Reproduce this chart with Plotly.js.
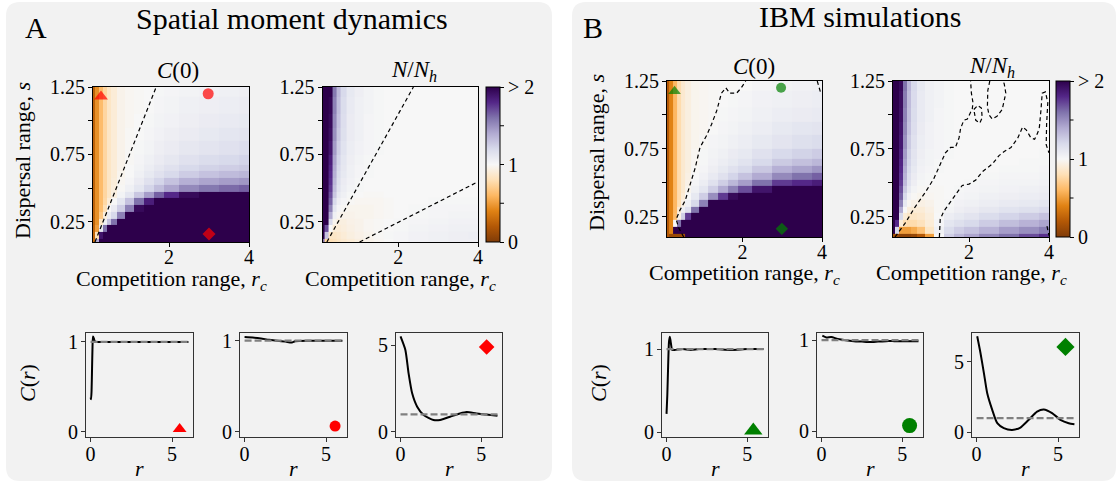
<!DOCTYPE html>
<html><head><meta charset="utf-8">
<script src="https://cdn.plot.ly/plotly-3.0.1.min.js"></script>
<style>html,body{margin:0;padding:0;background:#fff}#chart{width:1117px;height:482px}</style>
</head><body><div id="chart"></div>
<script>
const W = 1117, H = 482;
const FONT = "Liberation Serif";

// ---------- data ----------
const rcGrid = [0.1,0.2,0.3,0.4,0.5,0.6,0.8,1.0,1.25,1.5,1.75,2.0,2.5,3.0,3.5,4.0];
const sGrid  = [0.1,0.15,0.2,0.25,0.3,0.35,0.4,0.45,0.5,0.55,0.6,0.65,0.7,0.8,0.9,1.0,1.1,1.25];

// Spatial moment dynamics, C(0)
const smdC0 = [
 [0.3,1.4,2,2,2,2,2,2,2,2,2,2,2,2,2,2],
 [0.27,0.8,1.9,2,2,2,2,2,2,2,2,2,2,2,2,2],
 [0.26,0.5,1.1,1.6,2,2,2,2,2,2,2,2,2,2,2,2],
 [0.25,0.45,0.85,1.05,1.3,1.6,2,2,2,2,2,2,2,2,2,2],
 [0.25,0.45,0.68,0.92,1.08,1.2,1.55,2,2,2,2,2,2,2,2,2],
 [0.25,0.45,0.63,0.8,1.0,1.08,1.25,1.55,1.95,2,2,2,2,2,2,2],
 [0.25,0.45,0.62,0.76,0.9,1.0,1.12,1.3,1.6,1.85,2,2,2,2,2,2],
 [0.25,0.45,0.62,0.75,0.85,0.93,1.03,1.12,1.28,1.45,1.65,1.8,1.95,2,2,2],
 [0.25,0.45,0.62,0.75,0.85,0.92,0.99,1.05,1.12,1.22,1.32,1.42,1.52,1.58,1.62,1.65],
 [0.25,0.45,0.62,0.75,0.85,0.91,0.98,1.02,1.08,1.15,1.22,1.3,1.38,1.42,1.45,1.47],
 [0.25,0.45,0.62,0.75,0.85,0.9,0.97,1.0,1.05,1.1,1.15,1.2,1.26,1.3,1.33,1.35],
 [0.25,0.45,0.62,0.75,0.85,0.9,0.96,1.0,1.03,1.07,1.11,1.15,1.2,1.23,1.25,1.27],
 [0.25,0.45,0.62,0.75,0.85,0.9,0.96,0.99,1.02,1.05,1.08,1.11,1.15,1.18,1.2,1.22],
 [0.25,0.45,0.62,0.75,0.85,0.9,0.96,0.99,1.01,1.03,1.06,1.08,1.11,1.13,1.15,1.17],
 [0.25,0.45,0.62,0.75,0.85,0.9,0.96,0.99,1.0,1.02,1.04,1.06,1.08,1.1,1.12,1.13],
 [0.25,0.45,0.62,0.75,0.85,0.9,0.96,0.98,1.0,1.01,1.03,1.04,1.06,1.08,1.09,1.1],
 [0.25,0.45,0.62,0.75,0.85,0.9,0.96,0.98,0.99,1.0,1.02,1.03,1.05,1.06,1.07,1.08],
 [0.25,0.45,0.62,0.75,0.85,0.9,0.96,0.98,0.99,1.0,1.01,1.02,1.03,1.04,1.05,1.06]
];
// Spatial moment dynamics, N/N_h
const smdN = [
 [1.6,0.75,0.8,0.82,0.85,0.88,0.9,0.93,0.96,0.98,1.0,1.02,1.04,1.05,1.06,1.06],
 [2,1.3,0.85,0.85,0.87,0.9,0.93,0.95,0.97,0.99,1.01,1.02,1.04,1.05,1.06,1.07],
 [2,1.7,1.0,0.9,0.9,0.92,0.94,0.96,0.98,0.99,1.0,1.01,1.03,1.04,1.05,1.05],
 [2,2,1.2,0.97,0.93,0.93,0.95,0.96,0.98,0.99,1.0,1.01,1.02,1.03,1.04,1.04],
 [2,2,1.4,1.05,0.98,0.96,0.96,0.97,0.97,0.98,0.99,1.0,1.01,1.02,1.03,1.03],
 [2,2,1.55,1.12,1.02,0.99,0.97,0.97,0.97,0.98,0.99,1.0,1.01,1.02,1.02,1.02],
 [2,2,1.65,1.2,1.06,1.02,0.99,0.98,0.98,0.98,0.99,1.0,1.0,1.01,1.01,1.01],
 [2,2,1.7,1.28,1.1,1.05,1.01,1.0,0.99,0.99,1.0,1.0,1.0,1.0,1.0,1.0],
 [2,2,1.75,1.32,1.14,1.07,1.03,1.01,1.0,1.0,1.0,1.0,1.0,1.0,1.0,1.0],
 [2,2,1.78,1.35,1.16,1.08,1.04,1.01,1.0,1.0,1.0,1.0,1.0,1.0,1.0,1.0],
 [2,2,1.8,1.38,1.18,1.1,1.05,1.02,1.01,1.0,1.0,1.0,1.0,1.0,1.0,1.0],
 [2,2,1.82,1.4,1.2,1.11,1.05,1.02,1.01,1.0,1.0,1.0,1.0,1.0,1.0,1.0],
 [2,2,1.85,1.42,1.22,1.12,1.06,1.03,1.01,1.0,1.0,1.0,1.0,1.0,1.0,1.0],
 [2,2,1.9,1.46,1.25,1.14,1.07,1.04,1.02,1.01,1.0,1.0,1.0,1.0,1.0,1.0],
 [2,2,1.93,1.5,1.28,1.16,1.08,1.05,1.02,1.01,1.0,1.0,1.0,1.0,1.0,1.0],
 [2,2,1.95,1.52,1.3,1.17,1.08,1.05,1.02,1.01,1.0,1.0,1.0,1.0,1.0,1.0],
 [2,2,1.97,1.55,1.32,1.18,1.09,1.05,1.03,1.01,1.0,1.0,1.0,1.0,1.0,1.0],
 [2,2,2,1.58,1.34,1.2,1.1,1.06,1.03,1.01,1.0,1.0,1.0,1.0,1.0,1.0]
];
// IBM simulations, C(0)
const ibmC0 = [
 [0.2,0.1,0.1,0.1,0.12,2,2,2,2,2,2,2,2,2,2,2],
 [0.2,0.4,2,2,2,2,2,2,2,2,2,2,2,2,2,2],
 [0.2,0.4,1.0,1.6,2,2,2,2,2,2,2,2,2,2,2,2],
 [0.2,0.4,0.62,0.95,1.25,1.75,2,2,2,2,2,2,2,2,2,2],
 [0.2,0.4,0.6,0.9,1.05,1.15,1.6,2,2,2,2,2,2,2,2,2],
 [0.2,0.4,0.6,0.8,0.95,1.05,1.2,1.55,2,2,2,2,2,2,2,2],
 [0.2,0.4,0.6,0.78,0.9,1.0,1.1,1.25,1.5,1.75,1.95,2,2,2,2,2],
 [0.2,0.4,0.6,0.78,0.88,0.97,1.05,1.12,1.25,1.4,1.55,1.7,1.9,2,2,2],
 [0.2,0.4,0.6,0.78,0.88,0.95,1.02,1.07,1.15,1.25,1.35,1.45,1.6,1.75,1.8,1.85],
 [0.2,0.4,0.6,0.78,0.88,0.94,1.0,1.04,1.09,1.15,1.22,1.3,1.4,1.52,1.6,1.65],
 [0.2,0.4,0.6,0.78,0.88,0.93,0.99,1.02,1.06,1.1,1.15,1.2,1.28,1.38,1.43,1.48],
 [0.2,0.4,0.6,0.78,0.88,0.93,0.98,1.01,1.04,1.07,1.1,1.14,1.2,1.27,1.31,1.35],
 [0.2,0.4,0.6,0.78,0.88,0.93,0.98,1.01,1.03,1.05,1.08,1.1,1.15,1.2,1.23,1.26],
 [0.2,0.4,0.6,0.78,0.88,0.93,0.97,0.99,1.02,1.03,1.05,1.07,1.1,1.13,1.16,1.18],
 [0.2,0.4,0.6,0.78,0.88,0.93,0.97,0.98,1.0,1.02,1.03,1.05,1.07,1.1,1.12,1.13],
 [0.2,0.4,0.6,0.78,0.88,0.93,0.97,0.98,0.99,1.01,1.02,1.03,1.05,1.07,1.08,1.09],
 [0.2,0.4,0.6,0.78,0.88,0.93,0.97,0.98,0.99,1.0,1.01,1.02,1.04,1.05,1.06,1.07],
 [0.2,0.4,0.6,0.78,0.88,0.93,0.97,0.98,0.99,0.99,0.99,1.0,1.02,1.03,1.04,1.05]
];
// IBM simulations, N/N_h
const ibmN = [
 [0.15,0.1,0.05,0.05,0.05,0.08,0.2,0.5,1.0,1.25,1.35,1.42,1.52,1.6,1.7,1.78],
 [2,1.2,0.5,0.5,0.5,0.55,0.65,0.85,1.05,1.18,1.25,1.3,1.37,1.45,1.5,1.56],
 [2,1.8,0.9,0.8,0.78,0.78,0.82,0.9,1.02,1.12,1.16,1.2,1.26,1.32,1.37,1.42],
 [2,2,1.2,0.9,0.85,0.85,0.87,0.92,1.0,1.07,1.1,1.13,1.18,1.22,1.26,1.3],
 [2,2,1.4,1.0,0.92,0.9,0.9,0.94,0.99,1.03,1.06,1.08,1.11,1.14,1.16,1.19],
 [2,2,1.55,1.1,0.98,0.95,0.94,0.96,0.99,1.01,1.04,1.05,1.07,1.09,1.1,1.12],
 [2,2,1.65,1.2,1.04,0.99,0.97,0.98,0.99,1.0,1.02,1.03,1.05,1.06,1.07,1.08],
 [2,2,1.7,1.27,1.1,1.03,0.99,0.99,0.99,1.0,1.01,1.02,1.03,1.04,1.05,1.06],
 [2,2,1.75,1.33,1.14,1.06,1.01,1.0,1.0,1.0,1.0,1.01,1.02,1.03,1.03,1.04],
 [2,2,1.78,1.37,1.17,1.08,1.03,1.01,1.0,1.0,1.0,1.0,1.01,1.02,1.02,1.03],
 [2,2,1.8,1.4,1.2,1.1,1.04,1.02,1.01,1.0,1.0,1.0,1.0,1.01,1.01,1.02],
 [2,2,1.82,1.43,1.22,1.12,1.05,1.03,1.01,1.0,1.0,1.0,1.0,1.0,1.01,1.01],
 [2,2,1.85,1.46,1.24,1.13,1.06,1.03,1.02,1.01,1.0,1.0,1.0,1.0,1.0,1.01],
 [2,2,1.88,1.5,1.27,1.15,1.07,1.04,1.02,1.01,1.0,1.0,1.0,1.0,1.0,1.0],
 [2,2,1.9,1.53,1.3,1.17,1.08,1.04,1.02,1.01,1.0,1.0,1.0,1.0,1.0,1.0],
 [2,2,1.92,1.55,1.32,1.18,1.09,1.05,1.02,1.01,1.0,1.0,1.0,1.0,1.0,1.0],
 [2,2,1.93,1.57,1.33,1.19,1.09,1.05,1.03,1.01,1.0,1.0,1.0,1.0,1.0,1.0],
 [2,2,1.95,1.6,1.35,1.2,1.1,1.05,1.03,1.01,1.0,1.0,1.0,1.0,1.0,1.0]
];

// dashed boundaries (SMD: straight lines; IBM: traced C=1 contours)
const smdC0LineRc = [0.15, 1.68], smdC0LineS = [0.1, 1.25];
const smdNLine1Rc = [0.21, 2.38], smdNLine1S = [0.1, 1.25];
const smdNLine2Rc = [1.03, 4.0],  smdNLine2S = [0.1, 0.547];
const ibmC0ContRc = [0.52,0.45,0.39,0.33,0.43,0.56,0.68,0.81,0.93,1.1,1.22,1.35,1.47,1.58,1.68,1.85,1.97,2.08,null,3.88,3.97];
const ibmC0ContS  = [0.1,0.14,0.17,0.23,0.3,0.37,0.49,0.61,0.76,0.85,0.93,1.03,1.16,1.2,1.16,1.16,1.2,1.25,null,1.25,1.16];
const ibmNCont1Rc = [0.15,0.4,0.65,0.91,1.12,1.28,1.41,1.54,1.66,1.75,1.79,1.87,1.96,2.04,2.08,2.1,2.06,2.04];
const ibmNCont1S  = [0.1,0.2,0.32,0.43,0.53,0.63,0.72,0.76,0.76,0.83,0.9,0.96,0.97,1.02,1.04,1.09,1.16,1.25];
const ibmNLoop1Rc = [2.12,2.22,2.31,2.33,2.27,2.17,2.12];
const ibmNLoop1S  = [1.04,1.07,1.05,0.98,0.94,0.96,1.04];
const ibmNLoop2Rc = [2.52,2.47,2.46,2.5,2.58,2.7,2.83,2.92,2.88,2.85];
const ibmNLoop2S  = [1.25,1.18,1.06,1.0,0.97,0.99,1.04,1.16,1.23,1.25];
const ibmNCont2Rc = [1.26,1.28,1.37,1.54,1.7,1.83,2.0,2.17,2.33,2.46,2.59,2.75,2.88,3.05,3.22,3.34,3.43,3.55,3.64,3.72,3.76,3.8,3.83,3.91,3.97,3.94,3.93,4.0,null,3.95,4.0];
const ibmNCont2S  = [0.1,0.23,0.29,0.36,0.42,0.48,0.49,0.52,0.58,0.61,0.64,0.7,0.73,0.76,0.83,0.91,0.89,0.83,0.82,0.87,0.91,1.04,1.16,1.17,1.09,0.93,0.78,0.72,null,0.18,0.11];

// marker positions (rc, s)
const markRc = [0.3, 2.98, 3.0];
const markS  = [1.18, 1.2, 0.16];
const markRcB = [0.29, 2.97, 2.99];
const markSB  = [1.175, 1.2, 0.16];

// pair correlation functions C(r)
const smdTriR  = [0,0.03,0.06,0.09,0.12,0.15,0.2,0.25,0.35,0.5,1,2,3,4,5,6];
const smdTriC  = [0.38,0.36,0.45,0.7,0.95,1.06,1.04,1.01,1.0,1.0,1.0,1.0,1.0,1.0,1.0,1.0];
const smdCircR = [0,0.5,1,1.5,2,2.5,2.9,3.1,4,5,6];
const smdCircC = [1.04,1.035,1.025,1.01,1.0,0.99,0.98,0.995,1.0,1.0,1.0];
const smdDiaR  = [0,0.3,0.5,0.72,1.03,1.43,2.04,2.45,3.07,3.68,4.1,4.7,5.3,6.0];
const smdDiaC  = [5.5,4.72,3.37,2.22,1.45,0.97,0.68,0.68,0.87,1.06,1.14,1.06,1.0,0.93];
const ibmTriR  = [0,0.05,0.1,0.15,0.2,0.25,0.3,0.35,0.5,1,1.5,2,3,4,5,6];
const ibmTriC  = [0.22,0.45,0.8,1.08,1.15,1.1,1.03,0.99,0.99,1.0,0.99,1.0,1.0,0.99,1.0,1.0];
const ibmCircR = [0.05,0.3,0.6,1,1.5,2,2.5,3,3.5,4,4.5,5,5.5,6];
const ibmCircC = [1.05,1.03,1.035,1.015,1.0,0.99,0.985,0.98,0.985,0.99,0.99,0.99,0.99,0.99];
const ibmDiaR  = [0.04,0.24,0.45,0.65,0.96,1.27,1.67,2.18,2.69,3.2,3.71,4.12,4.63,5.14,5.65,6.0];
const ibmDiaC  = [6.83,5.64,4.21,2.79,1.59,0.64,0.29,0.16,0.33,0.88,1.47,1.62,1.36,0.88,0.64,0.57];
const mfR = [0, 6], mfC = [1, 1];
// marker positions inside C(r) panels (r, C)
const smdSymR = [5.46, 5.55, 5.33], smdSymC = [0.03, 0.06, 4.89];
const ibmSymR = [5.37, 5.45, 5.45], ibmSymC = [0.02, 0.06, 6.07];

// ---------- helpers ----------
const px = v => v / W, py = v => 1 - v / H;
const dx = (a, b) => [px(a), px(b)];
const dy = (top, bot) => [py(bot), py(top)];
const PuOr = [[0,'#7f3b08'],[0.1,'#b35806'],[0.2,'#e08214'],[0.3,'#fdb863'],[0.4,'#fee0b6'],
  [0.5,'#f7f7f7'],[0.6,'#d8daeb'],[0.7,'#b2abd2'],[0.8,'#8073ac'],[0.9,'#542788'],[1,'#2d004b']];
const tf = {family: FONT, size: 20, color: 'black'};

function rr(x0, y0, x1, y1, r) {
  const P = (x, y) => px(x).toFixed(5) + ',' + py(y).toFixed(5);
  return 'M' + P(x0 + r, y0) + ' L' + P(x1 - r, y0) + ' Q' + P(x1, y0) + ' ' + P(x1, y0 + r) +
    ' L' + P(x1, y1 - r) + ' Q' + P(x1, y1) + ' ' + P(x1 - r, y1) +
    ' L' + P(x0 + r, y1) + ' Q' + P(x0, y1) + ' ' + P(x0, y1 - r) +
    ' L' + P(x0, y0 + r) + ' Q' + P(x0, y0) + ' ' + P(x0 + r, y0) + ' Z';
}
function seg(x0, y0, x1, y1, color) {
  return {type: 'line', xref: 'paper', yref: 'paper', x0: px(x0), y0: py(y0), x1: px(x1), y1: py(y1),
    line: {color: color, width: 1}};
}

function cbar(xpx, ytop, len) {
  return {thickness: 14, thicknessmode: 'pixels', len: len, lenmode: 'pixels',
    x: px(xpx), xanchor: 'left', y: py(ytop), yanchor: 'top', xpad: 0, ypad: 0,
    outlinewidth: 1, outlinecolor: 'black', tickvals: [0, 1, 2],
    ticktext: ['0', '1', '> 2'], ticks: 'outside', ticklen: 4, tickwidth: 1,
    tickcolor: 'black', tickfont: tf};
}
function hm(z, xa, ya, showscale, cb) {
  const t = {type: 'heatmap', x: rcGrid, y: sGrid, z: z, xaxis: xa, yaxis: ya,
    colorscale: PuOr, zmin: 0, zmax: 2, zsmooth: false, hoverinfo: 'skip', showscale: showscale};
  if (cb) t.colorbar = cb;
  return t;
}
function dline(x, y, xa, ya) {
  return {type: 'scatter', mode: 'lines', x: x, y: y, xaxis: xa, yaxis: ya, hoverinfo: 'skip',
    line: {color: 'black', width: 1.2, dash: '4px,3px'}, connectgaps: false, showlegend: false};
}
function marks(x, y, xa, ya, color, sizes) {
  return {type: 'scatter', mode: 'markers', x: x, y: y, xaxis: xa, yaxis: ya, hoverinfo: 'skip',
    marker: {symbol: ['triangle-up', 'circle', 'diamond'], size: sizes, color: color, line: {width: 0}},
    showlegend: false};
}
function one(x, y, xa, ya, color, sym, size) {
  return {type: 'scatter', mode: 'markers', x: [x], y: [y], xaxis: xa, yaxis: ya, hoverinfo: 'skip',
    marker: {symbol: sym, size: size, color: color, line: {width: 0}}, showlegend: false};
}
function curve(x, y, xa, ya) {
  return {type: 'scatter', mode: 'lines', x: x, y: y, xaxis: xa, yaxis: ya, hoverinfo: 'skip',
    line: {color: 'black', width: 2, shape: 'spline', smoothing: 0.6}, showlegend: false};
}
function mf(xa, ya) {
  return {type: 'scatter', mode: 'lines', x: mfR, y: mfC, xaxis: xa, yaxis: ya, hoverinfo: 'skip',
    line: {color: '#808080', width: 2.2, dash: '7px,3px'}, showlegend: false};
}

const RED = '#ff0000', GREEN = '#008000';
const data = [
  hm(smdC0, 'x', 'y', false),
  hm(smdN, 'x2', 'y2', true, cbar(486, 87, 155)),
  hm(ibmC0, 'x3', 'y3', false),
  hm(ibmN, 'x4', 'y4', true, cbar(1055.5, 81, 156)),
  dline(smdC0LineRc, smdC0LineS, 'x', 'y'),
  dline(smdNLine1Rc, smdNLine1S, 'x2', 'y2'),
  dline(smdNLine2Rc, smdNLine2S, 'x2', 'y2'),
  dline(ibmC0ContRc, ibmC0ContS, 'x3', 'y3'),
  dline(ibmNCont1Rc, ibmNCont1S, 'x4', 'y4'),
  dline(ibmNLoop1Rc, ibmNLoop1S, 'x4', 'y4'),
  dline(ibmNLoop2Rc, ibmNLoop2S, 'x4', 'y4'),
  dline(ibmNCont2Rc, ibmNCont2S, 'x4', 'y4'),
  marks(markRc, markS, 'x', 'y', RED, [12, 11, 10]),
  marks(markRcB, markSB, 'x3', 'y3', GREEN, [11, 10, 9.5]),
  curve(smdTriR, smdTriC, 'x5', 'y5'), mf('x5', 'y5'),
  curve(smdCircR, smdCircC, 'x6', 'y6'), mf('x6', 'y6'),
  curve(smdDiaR, smdDiaC, 'x7', 'y7'), mf('x7', 'y7'),
  curve(ibmTriR, ibmTriC, 'x8', 'y8'), mf('x8', 'y8'),
  curve(ibmCircR, ibmCircC, 'x9', 'y9'), mf('x9', 'y9'),
  curve(ibmDiaR, ibmDiaC, 'x10', 'y10'), mf('x10', 'y10'),
  one(smdSymR[0], smdSymC[0], 'x5', 'y5', RED, 'triangle-up', 12),
  one(smdSymR[1], smdSymC[1], 'x6', 'y6', RED, 'circle', 11),
  one(smdSymR[2], smdSymC[2], 'x7', 'y7', RED, 'diamond', 12),
  one(ibmSymR[0], ibmSymC[0], 'x8', 'y8', GREEN, 'triangle-up', 16),
  one(ibmSymR[1], ibmSymC[1], 'x9', 'y9', GREEN, 'circle', 15),
  one(ibmSymR[2], ibmSymC[2], 'x10', 'y10', GREEN, 'diamond', 14)
];

function hx(dom, anchor) {
  return {domain: dom, anchor: anchor, range: [0.1, 4], tickvals: [2, 4], ticktext: ['2', '4'],
    ticks: 'outside', ticklen: 4, tickcolor: 'black', showline: true, mirror: true, linecolor: 'black',
    linewidth: 1, showgrid: false, zeroline: false, tickfont: tf, fixedrange: true,
    ticklabelstandoff: -7};
}
function hy(dom, anchor) {
  return {domain: dom, anchor: anchor, range: [0.1, 1.25], tickvals: [0.25, 0.75, 1.25],
    ticktext: ['0.25', '0.75', '1.25'], ticks: 'outside', ticklen: 4, tickcolor: 'black',
    minor: {tickvals: [0.5, 1.0], ticks: 'outside', ticklen: 4, tickcolor: 'black', showgrid: false},
    showline: true, mirror: true, linecolor: 'black', linewidth: 1, showgrid: false, zeroline: false,
    tickfont: tf, fixedrange: true, ticklabelstandoff: -1};
}
function lx(dom, anchor) {
  return {domain: dom, anchor: anchor, range: [-0.28, 6.28], tickvals: [0, 5], ticks: 'outside',
    ticklen: 4, tickcolor: '#333', showline: true, mirror: true, linecolor: '#333', linewidth: 1,
    showgrid: false, zeroline: false, tickfont: tf, fixedrange: true, ticklabelstandoff: -5};
}
function ly(dom, anchor, range, tv) {
  return {domain: dom, anchor: anchor, range: range, tickvals: tv, ticks: 'outside', ticklen: 4,
    tickcolor: '#333', showline: true, mirror: true, linecolor: '#333', linewidth: 1,
    showgrid: false, zeroline: false, tickfont: tf, fixedrange: true, ticklabelstandoff: -1};
}

const hA = dy(87, 242), hB = dy(81, 237);
const bA = dy(333, 437), bB = dy(332.5, 436.5);

function ann(text, x, y, size, extra) {
  return Object.assign({text: text, x: px(x), y: py(y), xref: 'paper', yref: 'paper',
    showarrow: false, xanchor: 'center', yanchor: 'middle',
    font: {family: FONT, size: size, color: 'black'}}, extra || {});
}
const annotations = [
  ann('A', 35.5, 27.5, 30),
  ann('Spatial moment dynamics', 292, 19, 30),
  ann('B', 593, 27, 30),
  ann('IBM simulations', 860, 17, 30),
  ann('<i>C</i>(0)', 178, 70, 23),
  ann('<i>N</i>/<i>N</i><sub><i>h</i></sub>', 414, 71, 23),
  ann('<i>C</i>(0)', 754, 67, 23),
  ann('<i>N</i>/<i>N</i><sub><i>h</i></sub>', 992, 67, 23),
  ann('Dispersal range, <i>s</i>', 23, 161, 22, {textangle: -90}),
  ann('Dispersal range, <i>s</i>', 596, 153, 22, {textangle: -90}),
  ann('Competition range, <i>r</i><sub><i>c</i></sub>', 171, 280, 22),
  ann('Competition range, <i>r</i><sub><i>c</i></sub>', 400, 280, 22),
  ann('Competition range, <i>r</i><sub><i>c</i></sub>', 744, 274, 22),
  ann('Competition range, <i>r</i><sub><i>c</i></sub>', 971, 274, 22),
  ann('<i>C</i>(<i>r</i>)', 27, 383, 22, {textangle: -90}),
  ann('<i>C</i>(<i>r</i>)', 598, 383, 22, {textangle: -90}),
  ann('<i>r</i>', 139.5, 468, 22), ann('<i>r</i>', 293.5, 468, 22), ann('<i>r</i>', 449, 468, 22),
  ann('<i>r</i>', 715, 468, 22), ann('<i>r</i>', 870, 468, 22), ann('<i>r</i>', 1025.5, 468, 22)
];

const layout = {
  width: W, height: H, margin: {l: 0, r: 0, t: 0, b: 0},
  paper_bgcolor: 'white', plot_bgcolor: 'rgba(0,0,0,0)', showlegend: false,
  font: {family: FONT, color: 'black'},
  shapes: [
    {type: 'path', path: rr(6, 2, 552, 481, 14), xref: 'paper', yref: 'paper', layer: 'below',
      fillcolor: '#f2f2f2', line: {width: 0}},
    {type: 'path', path: rr(572, 2, 1116, 481, 14), xref: 'paper', yref: 'paper', layer: 'below',
      fillcolor: '#f2f2f2', line: {width: 0}},
    // minor colorbar ticks at 0.5 and 1.5
    seg(500, 87 + 155 * 0.25, 504, 87 + 155 * 0.25, 'black'),
    seg(500, 87 + 155 * 0.75, 504, 87 + 155 * 0.75, 'black'),
    seg(1069.5, 81 + 156 * 0.25, 1073.5, 81 + 156 * 0.25, 'black'),
    seg(1069.5, 81 + 156 * 0.75, 1073.5, 81 + 156 * 0.75, 'black')
  ],
  annotations: annotations,
  xaxis: hx(dx(93, 249), 'y'), yaxis: hy(hA, 'x'),
  xaxis2: hx(dx(322.5, 478), 'y2'), yaxis2: hy(hA, 'x2'),
  xaxis3: hx(dx(667, 822), 'y3'), yaxis3: hy(hB, 'x3'),
  xaxis4: hx(dx(893, 1049), 'y4'), yaxis4: hy(hB, 'x4'),
  xaxis5: lx(dx(86, 193), 'y5'), yaxis5: ly(bA, 'x5', [-0.06, 1.1], [0, 1]),
  xaxis6: lx(dx(240, 347), 'y6'), yaxis6: ly(bA, 'x6', [-0.06, 1.085], [0, 1]),
  xaxis7: lx(dx(396, 502), 'y7'), yaxis7: ly(bA, 'x7', [-0.3, 5.7], [0, 5]),
  xaxis8: lx(dx(662, 768), 'y8'), yaxis8: ly(bB, 'x8', [-0.053, 1.2], [0, 1]),
  xaxis9: lx(dx(817, 923), 'y9'), yaxis9: ly(bB, 'x9', [-0.06, 1.085], [0, 1]),
  xaxis10: lx(dx(972, 1079), 'y10'), yaxis10: ly(bB, 'x10', [-0.31, 7.1], [0, 5])
};

Plotly.newPlot('chart', data, layout, {staticPlot: true, displayModeBar: false});
</script>
</body></html>
